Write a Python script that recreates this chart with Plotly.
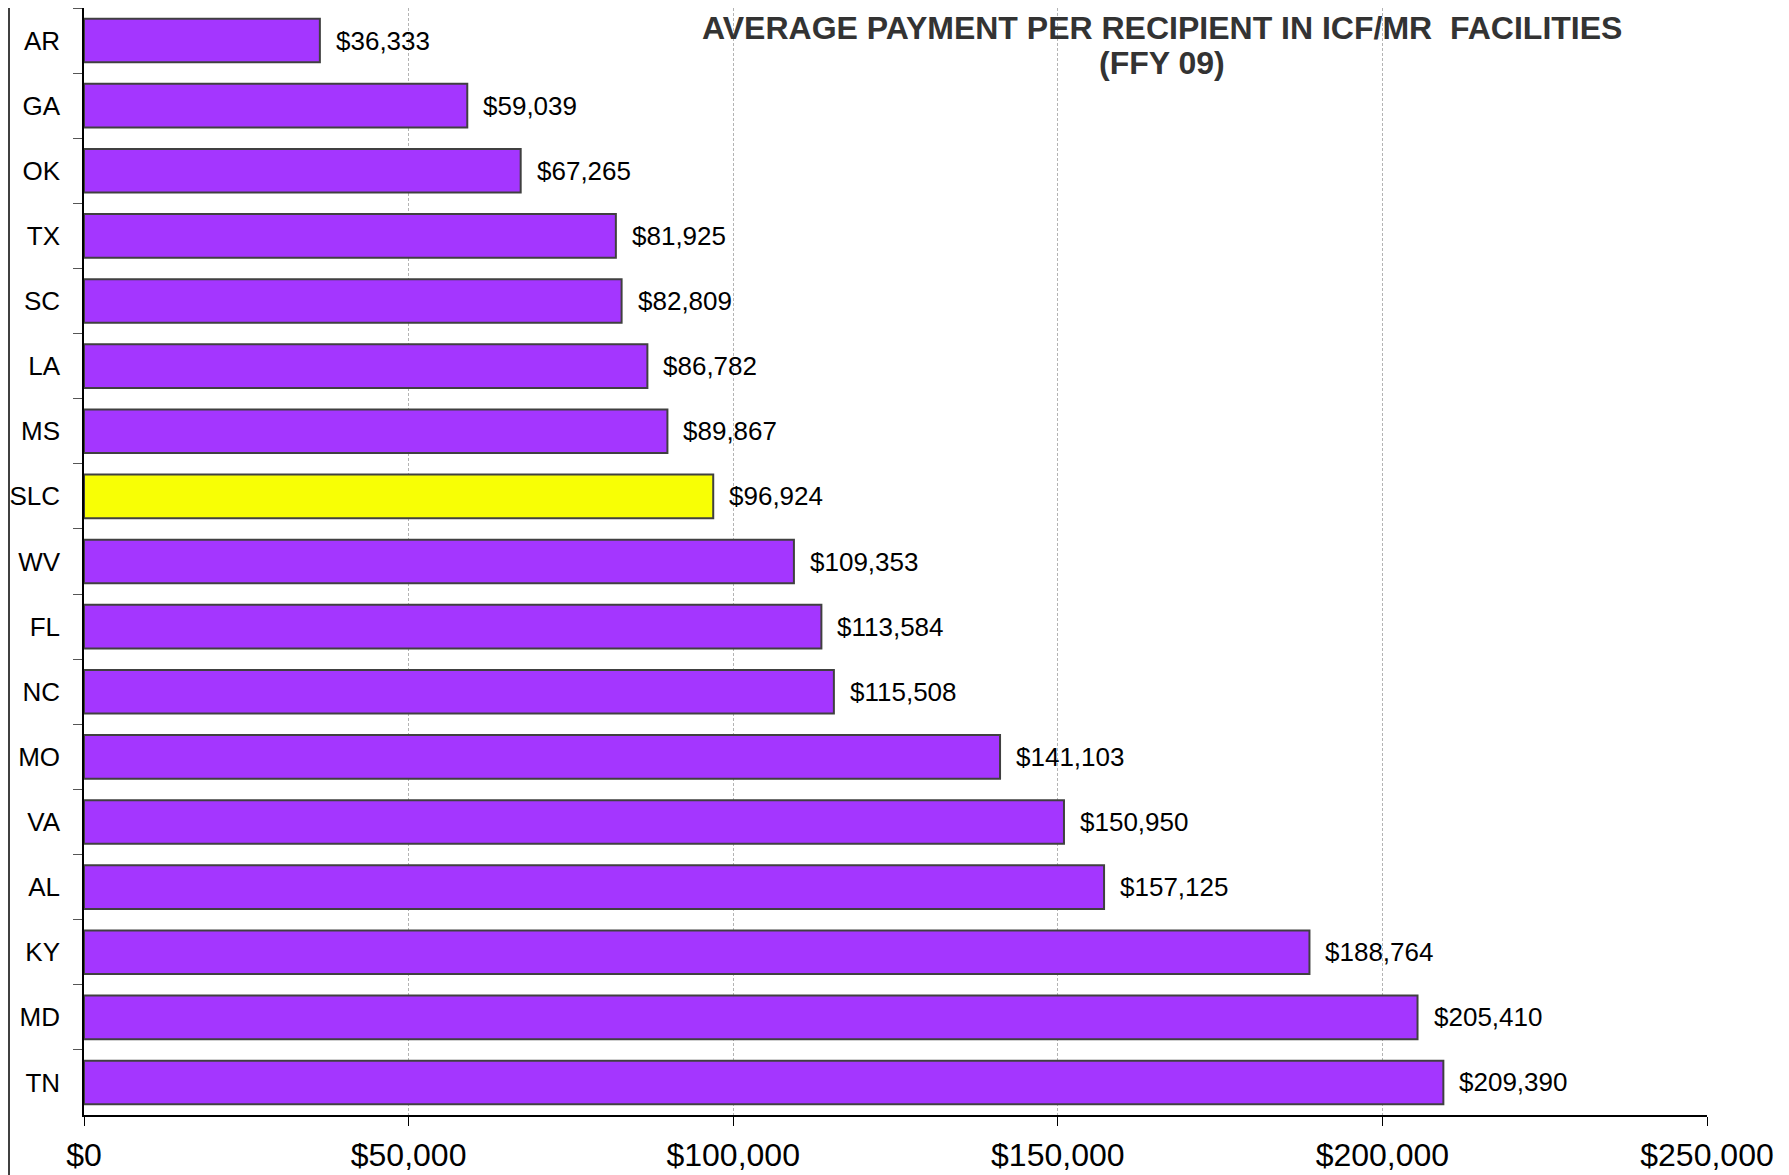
import plotly.graph_objects as go

# Data
states = ["AR", "GA", "OK", "TX", "SC", "LA", "MS", "SLC", "WV",
          "FL", "NC", "MO", "VA", "AL", "KY", "MD", "TN"]
payments = [36333, 59039, 67265, 81925, 82809, 86782, 89867, 96924, 109353,
            113584, 115508, 141103, 150950, 157125, 188764, 205410, 209390]
highlight = "SLC"
title_lines = ["AVERAGE PAYMENT PER RECIPIENT IN ICF/MR  FACILITIES", "(FFY 09)"]

purple = "#A436FF"
yellow = "#F8FF05"
colors = [yellow if s == highlight else purple for s in states]

W, H = 1789, 1175
m = dict(l=76, r=90, t=0, b=68)
plot_w = W - m["l"] - m["r"]
plot_h = H - m["t"] - m["b"]

fig = go.Figure()
fig.add_trace(go.Bar(
    x=payments, y=states, orientation="h",
    marker=dict(color=colors, line=dict(color="#404040", width=2)),
    hoverinfo="x+y",
))

# value labels to the right of each bar
for s, v in zip(states, payments):
    fig.add_annotation(x=v, y=s, text=f"${v:,}", showarrow=False,
                       xanchor="left", xshift=14,
                       font=dict(family="Liberation Sans, Arial", size=26, color="#000000"))

# title, two lines placed separately (tighter line spacing than plotly's <br>)
for i, line in enumerate(title_lines):
    fig.add_annotation(xref="paper", yref="paper", x=0.664, y=1 - (35 * i) / plot_h,
                       yanchor="top", text=f"<b>{line}</b>", showarrow=False,
                       font=dict(family="Liberation Sans, Arial", size=32, color="#333333"))

# thin dark strip on the left edge
fig.add_shape(type="rect", xref="paper", yref="paper",
              x0=-m["l"] / plot_w, x1=(2 - m["l"]) / plot_w,
              y0=-m["b"] / plot_h, y1=1.0, line_width=0, fillcolor="#404040")

fig.update_layout(
    width=W, height=H,
    margin=m,
    plot_bgcolor="white", paper_bgcolor="white",
    bargap=0.33, showlegend=False,
    font=dict(family="Liberation Sans, Arial", color="#000000"),
)
fig.update_xaxes(range=[0, 250000], dtick=50000, tickprefix="$", tickformat=",",
                 showgrid=True, gridcolor="#B4B4B4", gridwidth=1, griddash="3px,2px",
                 showline=True, linecolor="#000000", linewidth=1.5,
                 ticks="outside", ticklen=9, tickcolor="#000000", ticklabelstandoff=2,
                 tickfont=dict(size=32), zeroline=False, automargin=False)
fig.update_yaxes(categoryorder="array", categoryarray=states, autorange="reversed",
                 showline=True, linecolor="#000000", linewidth=1.5,
                 ticks="outside", tickson="boundaries", ticklen=9, tickcolor="#555555",
                 ticklabelstandoff=17,
                 tickfont=dict(size=26), showgrid=False, automargin=False)

fig.write_html("out.html")
